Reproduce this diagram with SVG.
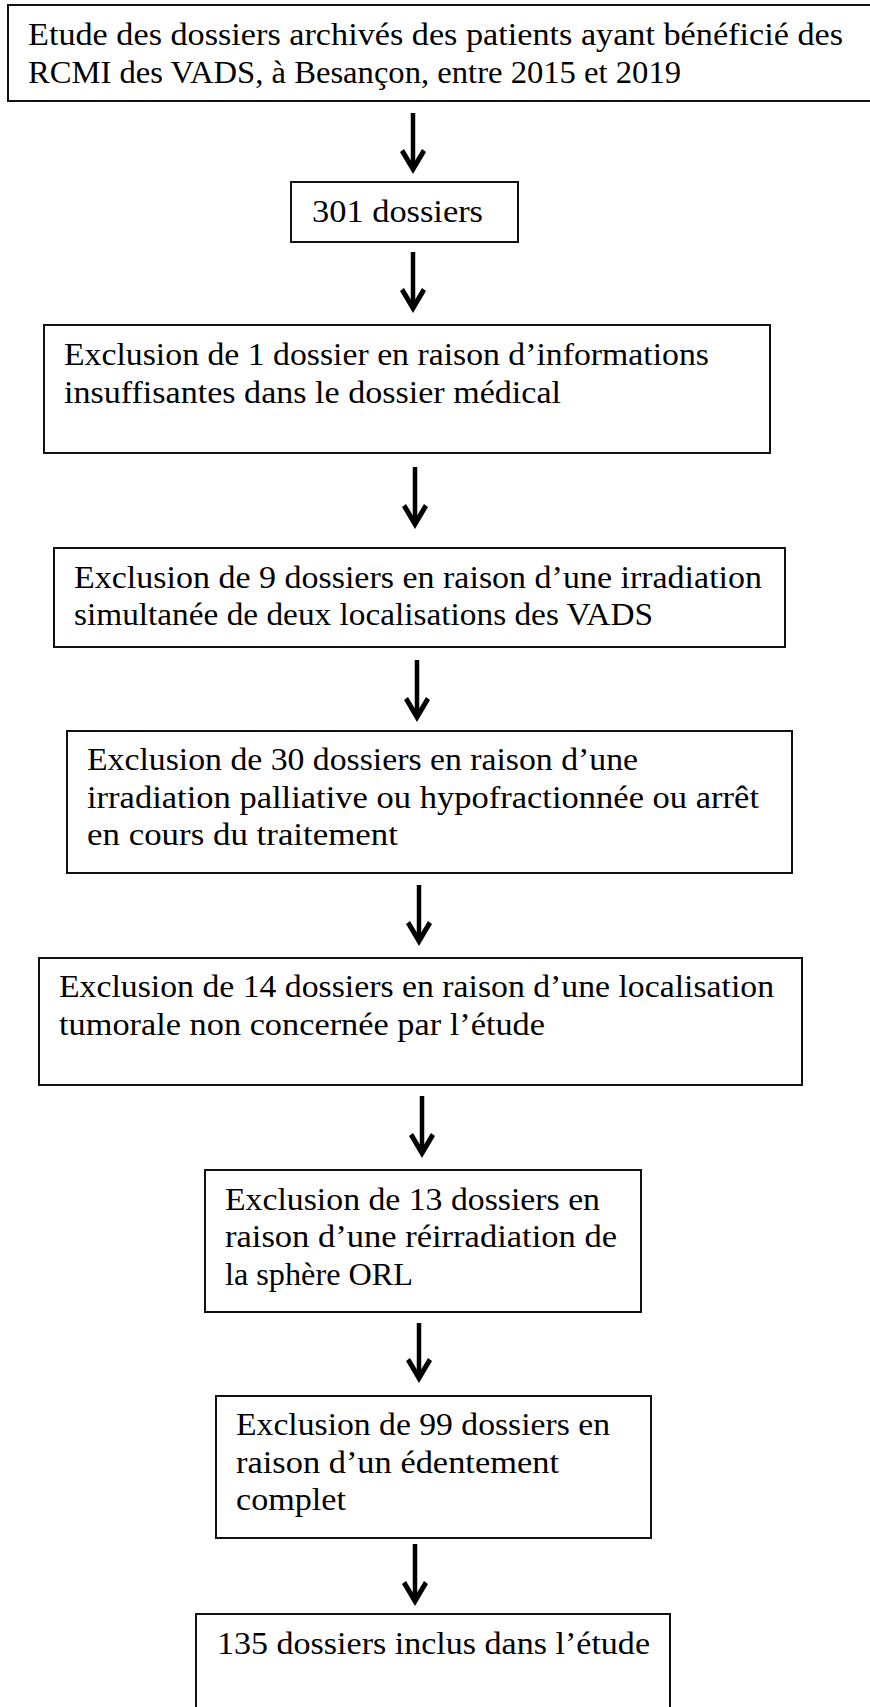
<svg xmlns="http://www.w3.org/2000/svg" xmlns:xlink="http://www.w3.org/1999/xlink" width="870" height="1707" viewBox="0 0 870 1707">
<style>
.box{fill:#fff;stroke:#111;stroke-width:2}
.t{font-family:"Liberation Serif","Times New Roman",serif;font-size:32px;fill:#000}
.shaft{stroke:#000;stroke-width:4.5;fill:none}
</style>
<defs>
<path id="head" d="M0 0 L-13 -22 L-9 -25 L0 -10 L9 -25 L13 -22 Z" fill="#000"/>
</defs>
<rect width="870" height="1707" fill="#fff"/>
<g id="connectors">
<line class="shaft" x1="413" y1="113" x2="413" y2="166"/><use xlink:href="#head" href="#head" x="413" y="174"/>
<line class="shaft" x1="413" y1="252" x2="413" y2="305"/><use xlink:href="#head" href="#head" x="413" y="313"/>
<line class="shaft" x1="415" y1="467" x2="415" y2="521"/><use xlink:href="#head" href="#head" x="415" y="529"/>
<line class="shaft" x1="417" y1="660" x2="417" y2="714"/><use xlink:href="#head" href="#head" x="417" y="722"/>
<line class="shaft" x1="419" y1="885" x2="419" y2="938"/><use xlink:href="#head" href="#head" x="419" y="946"/>
<line class="shaft" x1="422" y1="1096" x2="422" y2="1150"/><use xlink:href="#head" href="#head" x="422" y="1158"/>
<line class="shaft" x1="419" y1="1323" x2="419" y2="1375"/><use xlink:href="#head" href="#head" x="419" y="1383"/>
<line class="shaft" x1="415" y1="1544" x2="415" y2="1598"/><use xlink:href="#head" href="#head" x="415" y="1606"/>
</g>
<g id="n1">
<rect class="box" x="8" y="5" width="872" height="96"/>
<text class="t" x="28" y="45" textLength="815" lengthAdjust="spacingAndGlyphs">Etude des dossiers archivés des patients ayant bénéficié des</text>
<text class="t" x="28" y="83" textLength="653" lengthAdjust="spacingAndGlyphs">RCMI des VADS, à Besançon, entre 2015 et 2019</text>
</g>
<g id="n2">
<rect class="box" x="291" y="182" width="227" height="60"/>
<text class="t" x="312" y="222" textLength="171" lengthAdjust="spacingAndGlyphs">301 dossiers</text>
</g>
<g id="n3">
<rect class="box" x="44" y="325" width="726" height="128"/>
<text class="t" x="64" y="365" textLength="645" lengthAdjust="spacingAndGlyphs">Exclusion de 1 dossier en raison d’informations</text>
<text class="t" x="64" y="403" textLength="497" lengthAdjust="spacingAndGlyphs">insuffisantes dans le dossier médical</text>
</g>
<g id="n4">
<rect class="box" x="54" y="548" width="731" height="99"/>
<text class="t" x="74" y="588" textLength="688" lengthAdjust="spacingAndGlyphs">Exclusion de 9 dossiers en raison d’une irradiation</text>
<text class="t" x="74" y="625" textLength="579" lengthAdjust="spacingAndGlyphs">simultanée de deux localisations des VADS</text>
</g>
<g id="n5">
<rect class="box" x="67" y="731" width="725" height="142"/>
<text class="t" x="87" y="770" textLength="551" lengthAdjust="spacingAndGlyphs">Exclusion de 30 dossiers en raison d’une</text>
<text class="t" x="87" y="808" textLength="672" lengthAdjust="spacingAndGlyphs">irradiation palliative ou hypofractionnée ou arrêt</text>
<text class="t" x="87" y="845" textLength="311" lengthAdjust="spacingAndGlyphs">en cours du traitement</text>
</g>
<g id="n6">
<rect class="box" x="39" y="958" width="763" height="127"/>
<text class="t" x="59" y="997" textLength="715" lengthAdjust="spacingAndGlyphs">Exclusion de 14 dossiers en raison d’une localisation</text>
<text class="t" x="59" y="1035" textLength="486" lengthAdjust="spacingAndGlyphs">tumorale non concernée par l’étude</text>
</g>
<g id="n7">
<rect class="box" x="205" y="1170" width="436" height="142"/>
<text class="t" x="225" y="1210" textLength="375" lengthAdjust="spacingAndGlyphs">Exclusion de 13 dossiers en</text>
<text class="t" x="225" y="1247" textLength="392" lengthAdjust="spacingAndGlyphs">raison d’une réirradiation de</text>
<text class="t" x="225" y="1285" textLength="188" lengthAdjust="spacingAndGlyphs">la sphère ORL</text>
</g>
<g id="n8">
<rect class="box" x="216" y="1396" width="435" height="142"/>
<text class="t" x="236" y="1435" textLength="374" lengthAdjust="spacingAndGlyphs">Exclusion de 99 dossiers en</text>
<text class="t" x="236" y="1473" textLength="323" lengthAdjust="spacingAndGlyphs">raison d’un édentement</text>
<text class="t" x="236" y="1510" textLength="110" lengthAdjust="spacingAndGlyphs">complet</text>
</g>
<g id="n9">
<rect class="box" x="196" y="1614" width="474" height="110"/>
<text class="t" x="217" y="1654" textLength="433" lengthAdjust="spacingAndGlyphs">135 dossiers inclus dans l’étude</text>
</g>
</svg>
